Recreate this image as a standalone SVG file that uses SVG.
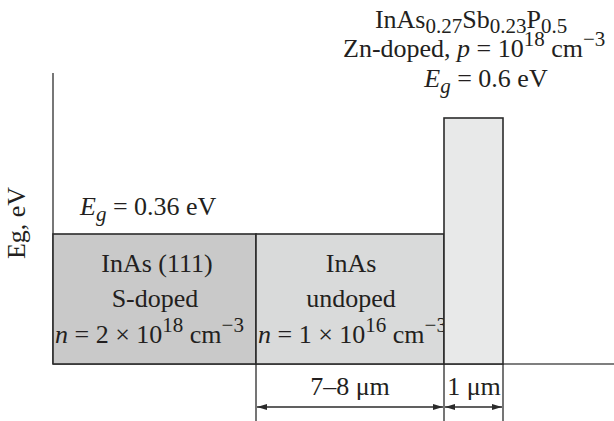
<svg xmlns="http://www.w3.org/2000/svg" width="614" height="421" viewBox="0 0 614 421">
<defs>
<style>
text{font-family:"Liberation Serif","Times New Roman",serif;font-size:26px;fill:#231f20}
.c{text-anchor:middle}
.i{font-style:italic}
.s{font-size:21px}
.bx{stroke:#2b2b2b;stroke-width:1.6}
.ax{stroke:#555;stroke-width:1.6;fill:none}
.dim{stroke:#2b2b2b;stroke-width:1.3;fill:none}
</style>
<marker id="ah" viewBox="0 0 10 6" refX="10" refY="3" markerWidth="11" markerHeight="6" markerUnits="userSpaceOnUse" orient="auto-start-reverse">
<path d="M0,0 L10,3 L0,6 Z" fill="#2b2b2b"/>
</marker>
</defs>
<rect width="614" height="421" fill="#fff"/>

<g id="axes">
<line class="ax" x1="53" y1="73" x2="53" y2="364"/>
<line class="ax" x1="53" y1="364" x2="614" y2="364"/>
<text class="c" transform="translate(25,223) rotate(-90)">Eg, eV</text>
</g>

<g id="inas-substrate">
<rect class="bx" x="53" y="234" width="203" height="130" fill="#c9c9c9"/>
<text class="c" x="157" y="272">InAs (111)</text>
<text class="c" x="155" y="307">S-doped</text>
<text x="55" y="343"><tspan class="i">n</tspan> = 2 × 10<tspan class="s" dy="-11">18</tspan><tspan dy="11"> cm</tspan><tspan class="s" dy="-11">−3</tspan></text>
<text x="80" y="215"><tspan class="i">E</tspan><tspan class="i s" dy="6">g</tspan><tspan dy="-6"> = 0.36 eV</tspan></text>
</g>

<g id="inas-undoped">
<rect class="bx" x="256" y="234" width="188" height="130" fill="#d9dada"/>
<text class="c" x="351" y="272">InAs</text>
<text class="c" x="351" y="307">undoped</text>
<text x="258" y="343"><tspan class="i">n</tspan> = 1 × 10<tspan class="s" dy="-11">16</tspan><tspan dy="11"> cm</tspan><tspan class="s" dy="-11">−3</tspan></text>
</g>

<g id="inassbp-layer">
<rect class="bx" x="444" y="118" width="59" height="246" fill="#e8e9e9"/>
<text class="c" x="471" y="28">InAs<tspan class="s" dy="5">0.27</tspan><tspan dy="-5">Sb</tspan><tspan class="s" dy="5">0.23</tspan><tspan dy="-5">P</tspan><tspan class="s" dy="5">0.5</tspan></text>
<text x="343" y="57">Zn-doped, <tspan class="i">p</tspan> = 10<tspan class="s" dy="-11">18</tspan><tspan dy="11"> cm</tspan><tspan class="s" dy="-11">−3</tspan></text>
<text class="c" x="486" y="87"><tspan class="i">E</tspan><tspan class="i s" dy="6">g</tspan><tspan dy="-6"> = 0.6 eV</tspan></text>
</g>

<g id="connectors">
<line class="dim" x1="256" y1="364" x2="256" y2="421"/>
<line class="dim" x1="444" y1="364" x2="444" y2="421"/>
<line class="dim" x1="503" y1="364" x2="503" y2="421"/>
<line class="dim" x1="257" y1="407" x2="443" y2="407" marker-start="url(#ah)" marker-end="url(#ah)"/>
<line class="dim" x1="445" y1="407" x2="502" y2="407" marker-start="url(#ah)" marker-end="url(#ah)"/>
<text class="c" x="350" y="395">7–8 μm</text>
<text class="c" x="474" y="395">1 μm</text>
</g>
</svg>
